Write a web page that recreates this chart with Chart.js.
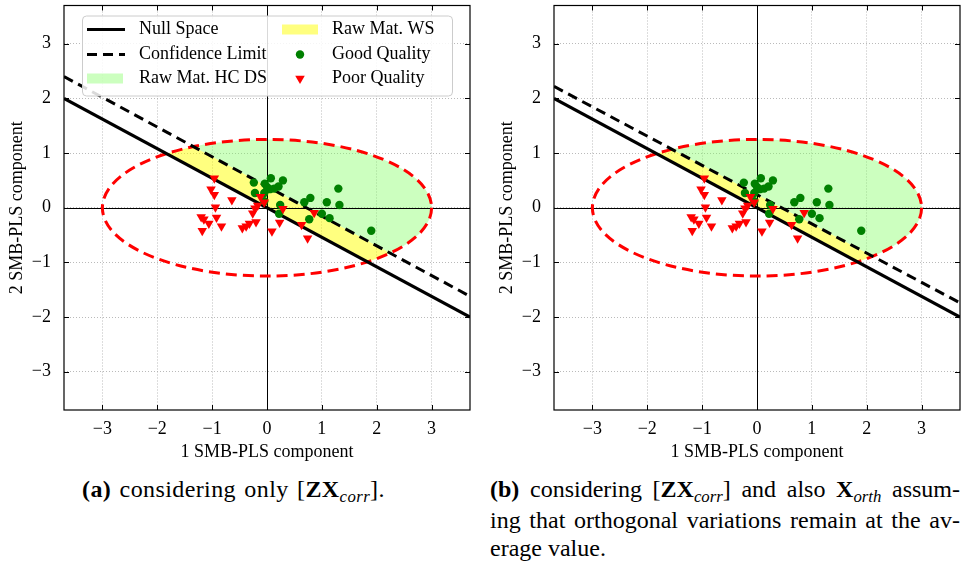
<!DOCTYPE html>
<html lang="en">
<head>
  <meta charset="UTF-8" />
  <title>SMB-PLS score plots</title>
  <script src="https://cdn.jsdelivr.net/npm/chart.js"></script>
  <style>
    body { margin: 0; background: #fff; font-family: "Liberation Serif", serif; color: #000; }
    .panel { position: absolute; top: 0; }
    .cap { position: absolute; font-size: 24px; line-height: 28px; white-space: nowrap; }
    .cap .sub { font-size: 0.7em; font-style: italic; position: relative; top: 0.3em; }
    .just { text-align: justify; text-align-last: justify; }
  </style>
</head>
<body>
  <canvas id="chartA" class="panel" style="left:0px" width="480" height="470"></canvas>
  <canvas id="chartB" class="panel" style="left:490px" width="480" height="470"></canvas>

  <div class="cap" style="left:82px; top:475px; letter-spacing:0.4px; word-spacing:2px;">
    <b>(a)</b> considering only [<b>ZX</b><span class="sub">corr</span>].
  </div>
  <div class="cap" style="left:490px; top:475px; width:470px;">
    <div class="just"><b>(b)</b> considering [<b>ZX</b><span class="sub">corr</span>] and also <b>X</b><span class="sub">orth</span> assum-</div>
    <div class="just">ing that orthogonal variations remain at the av-</div>
    <div>erage value.</div>
  </div>

  <script>
    // axis range and ticks
    const axisMin = -3.7;
    const axisMax = 3.7;
    const xTicks = [-3, -2, -1, 0, 1, 2, 3];
    const yTicks = [-3, -2, -1, 0, 1, 2, 3];

    // null space and confidence limit (end points)
    const lineX = [-3.7, 3.7];
    const nullSpaceY = [2.0, -2.0];
    const confLimitA = [2.40, -1.62];
    const confLimitB = [2.22, -1.74];

    // raw material ellipse
    const ellipseCenter = [0, 0];
    const ellipseRadii = [3.0, 1.25];

    // scores
    const goodX = [-0.24, -0.22, -0.04, 0.07, 0.05, 0.21, 0.29, -0.05, 0.00, 0.13, -0.05, 0.24, 0.22, 0.68, 0.79, 1.09, 1.32, 1.30, 1.00, 1.14, 0.77, 1.90];
    const goodY = [0.46, 0.27, 0.44, 0.54, 0.34, 0.39, 0.50, 0.27, 0.38, 0.35, 0.12, 0.05, -0.11, 0.10, 0.18, 0.10, 0.05, 0.35, -0.11, -0.19, -0.21, -0.42];
    const poorX = [-0.96, -1.02, -0.96, -0.64, -0.94, -1.20, -1.15, -0.92, -1.06, -0.83, -1.18, -0.45, -0.38, -0.32, -0.20, -0.26, -0.22, -0.12, -0.17, -0.05, 0.09, 0.29, 0.23, 0.63, 0.74, 0.86];
    const poorY = [0.54, 0.34, 0.24, 0.14, 0.01, -0.17, -0.21, -0.18, -0.29, -0.34, -0.42, -0.37, -0.34, -0.29, -0.26, -0.10, -0.01, 0.20, 0.04, 0.10, -0.43, -0.02, -0.27, -0.31, -0.56, -0.09];

    const legendLabels = ['Null Space', 'Confidence Limit', 'Raw Mat. HC DS', 'Raw Mat. WS', 'Good Quality', 'Poor Quality'];

    const GREEN_FILL = 'rgba(128,255,96,0.4)';
    const YELLOW_FILL = 'rgba(255,255,0,0.5)';
    const FONT = '"Liberation Serif", serif';

    Chart.defaults.font.family = FONT;
    Chart.defaults.color = '#000';

    const toPts = (xs, ys) => xs.map((v, i) => ({ x: v, y: ys[i] }));
    const fmt = v => v < 0 ? '\u2212' + Math.abs(v) : String(v);

    // fills, zero lines and ellipse, drawn under the datasets
    const regionPlugin = {
      id: 'regions',
      beforeDatasetsDraw(chart, args, opts) {
        const { ctx, chartArea: ca, scales: { x, y } } = chart;
        const px = v => x.getPixelForValue(v), py = v => y.getPixelForValue(v);
        const conf = opts.conf;
        const cx = px(ellipseCenter[0]), cy = py(ellipseCenter[1]);
        const rx = Math.abs(px(ellipseCenter[0] + ellipseRadii[0]) - cx);
        const ry = Math.abs(py(ellipseCenter[1] + ellipseRadii[1]) - cy);

        ctx.save();
        ctx.beginPath();
        ctx.rect(ca.left, ca.top, ca.width, ca.height);
        ctx.clip();

        ctx.save();
        ctx.beginPath();
        ctx.ellipse(cx, cy, rx, ry, 0, 0, Math.PI * 2);
        ctx.clip();
        // green: above confidence limit
        ctx.beginPath();
        ctx.moveTo(px(lineX[0]), py(conf[0]));
        ctx.lineTo(px(lineX[1]), py(conf[1]));
        ctx.lineTo(ca.right, ca.top);
        ctx.lineTo(ca.left, ca.top);
        ctx.closePath();
        ctx.fillStyle = GREEN_FILL;
        ctx.fill();
        // yellow: between null space and confidence limit
        ctx.beginPath();
        ctx.moveTo(px(lineX[0]), py(nullSpaceY[0]));
        ctx.lineTo(px(lineX[1]), py(nullSpaceY[1]));
        ctx.lineTo(px(lineX[1]), py(conf[1]));
        ctx.lineTo(px(lineX[0]), py(conf[0]));
        ctx.closePath();
        ctx.fillStyle = YELLOW_FILL;
        ctx.fill();
        ctx.restore();

        // zero lines
        const zx = Math.round(px(0)) + 0.5, zy = Math.round(py(0)) + 0.5;
        ctx.strokeStyle = '#000';
        ctx.lineWidth = 1;
        ctx.beginPath();
        ctx.moveTo(zx, ca.top); ctx.lineTo(zx, ca.bottom);
        ctx.moveTo(ca.left, zy); ctx.lineTo(ca.right, zy);
        ctx.stroke();

        // ellipse
        ctx.strokeStyle = '#ff0000';
        ctx.lineWidth = 3;
        ctx.setLineDash([11, 6]);
        ctx.beginPath();
        ctx.ellipse(cx, cy, rx, ry, 0, 0, Math.PI * 2);
        ctx.stroke();
        ctx.restore();
      },
      afterDatasetsDraw(chart) {
        // frame with inward ticks on all sides
        const { ctx, chartArea: ca, scales: { x, y } } = chart;
        ctx.save();
        ctx.strokeStyle = '#000';
        ctx.lineWidth = 1.2;
        ctx.strokeRect(ca.left, ca.top, ca.width, ca.height);
        ctx.lineWidth = 1;
        ctx.beginPath();
        xTicks.forEach(v => {
          const p = Math.round(x.getPixelForValue(v)) + 0.5;
          ctx.moveTo(p, ca.bottom); ctx.lineTo(p, ca.bottom - 5);
          ctx.moveTo(p, ca.top); ctx.lineTo(p, ca.top + 5);
        });
        yTicks.forEach(v => {
          const p = Math.round(y.getPixelForValue(v)) + 0.5;
          ctx.moveTo(ca.left, p); ctx.lineTo(ca.left + 5, p);
          ctx.moveTo(ca.right, p); ctx.lineTo(ca.right - 5, p);
        });
        ctx.stroke();
        ctx.restore();
      }
    };

    // legend box inside the plot (panel a only)
    const legendPlugin = {
      id: 'insideLegend',
      afterDraw(chart) {
        const { ctx, chartArea: ca } = chart;
        const bx = ca.left + 18, by = ca.top + 10, bw = 370, bh = 80;
        ctx.save();
        ctx.fillStyle = 'rgba(255,255,255,0.85)';
        ctx.strokeStyle = '#cccccc';
        ctx.lineWidth = 1;
        ctx.beginPath();
        ctx.roundRect(bx + 0.5, by + 0.5, bw, bh, 4);
        ctx.fill();
        ctx.stroke();

        const rows = [by + 14, by + 39, by + 63];
        const c1 = bx + 5, c2 = bx + 200;
        ctx.strokeStyle = '#000';
        ctx.lineWidth = 3;
        ctx.beginPath(); ctx.moveTo(c1, rows[0]); ctx.lineTo(c1 + 38, rows[0]); ctx.stroke();
        ctx.setLineDash([10, 6]);
        ctx.beginPath(); ctx.moveTo(c1, rows[1]); ctx.lineTo(c1 + 38, rows[1]); ctx.stroke();
        ctx.setLineDash([]);
        ctx.fillStyle = GREEN_FILL;
        ctx.fillRect(c1, rows[2] - 5, 36, 10);
        ctx.fillStyle = YELLOW_FILL;
        ctx.fillRect(c2, rows[0] - 5, 36, 10);
        ctx.fillStyle = '#008000';
        ctx.beginPath(); ctx.arc(c2 + 18, rows[1], 4.2, 0, Math.PI * 2); ctx.fill();
        ctx.fillStyle = '#ff0000';
        ctx.beginPath();
        ctx.moveTo(c2 + 18 - 4.8, rows[2] - 2.8);
        ctx.lineTo(c2 + 18 + 4.8, rows[2] - 2.8);
        ctx.lineTo(c2 + 18, rows[2] + 5.5);
        ctx.closePath(); ctx.fill();

        ctx.fillStyle = '#000';
        ctx.font = '18px ' + FONT;
        ctx.textBaseline = 'middle';
        ctx.fillText(legendLabels[0], c1 + 52, rows[0]);
        ctx.fillText(legendLabels[1], c1 + 52, rows[1]);
        ctx.fillText(legendLabels[2], c1 + 52, rows[2]);
        ctx.fillText(legendLabels[3], c2 + 50, rows[0]);
        ctx.fillText(legendLabels[4], c2 + 50, rows[1]);
        ctx.fillText(legendLabels[5], c2 + 50, rows[2]);
        ctx.restore();
      }
    };

    function axis(ticks, title, isX) {
      return {
        type: 'linear',
        min: axisMin,
        max: axisMax,
        afterBuildTicks: s => { s.ticks = ticks.map(v => ({ value: v })); },
        afterFit: s => {
          if (isX) s.height = 55; else s.width = 64;
          s.paddingTop = 0; s.paddingBottom = 0; s.paddingLeft = 0; s.paddingRight = 0;
        },
        grid: { color: '#a8a8a8', lineWidth: 0.8, drawTicks: false },
        border: { display: false, dash: [1, 2] },
        ticks: { callback: fmt, font: { size: 18 }, padding: isX ? 8 : 13, maxRotation: 0 },
        title: { display: true, text: title, font: { size: 18 }, padding: isX ? { top: 0, bottom: 2 } : { top: 6, bottom: 0 } }
      };
    }

    function makeChart(id, conf, withLegend) {
      const plugins = [regionPlugin];
      if (withLegend) plugins.push(legendPlugin);
      return new Chart(document.getElementById(id), {
        type: 'scatter',
        data: {
          datasets: [
            { label: 'Poor Quality', data: toPts(poorX, poorY), order: 0,
              pointStyle: 'triangle', rotation: 180, pointRadius: 5.5,
              backgroundColor: '#ff0000', borderColor: '#ff0000', borderWidth: 0 },
            { label: 'Good Quality', data: toPts(goodX, goodY), order: 1,
              pointStyle: 'circle', pointRadius: 4.2,
              backgroundColor: '#008000', borderColor: '#008000', borderWidth: 0 },
            { label: 'Confidence Limit', data: toPts(lineX, conf), order: 2, showLine: true,
              pointRadius: 0, borderColor: '#000', borderWidth: 3, borderDash: [10, 6] },
            { label: 'Null Space', data: toPts(lineX, nullSpaceY), order: 3, showLine: true,
              pointRadius: 0, borderColor: '#000', borderWidth: 3 }
          ]
        },
        options: {
          responsive: false,
          animation: false,
          layout: { padding: { left: 0, right: 10, top: 5, bottom: 5 } },
          scales: {
            x: axis(xTicks, '1 SMB-PLS component', true),
            y: axis(yTicks, '2 SMB-PLS component', false)
          },
          plugins: {
            legend: { display: false },
            tooltip: { enabled: false },
            regions: { conf: conf }
          }
        },
        plugins: plugins
      });
    }

    makeChart('chartA', confLimitA, true);
    makeChart('chartB', confLimitB, false);
  </script>
</body>
</html>
